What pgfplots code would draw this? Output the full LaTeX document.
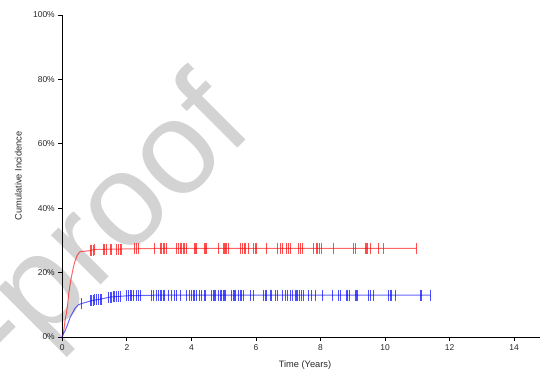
\documentclass[border=0pt]{standalone}
\usepackage{fontspec}
\setmainfont{Liberation Sans}
\usepackage{pgfplots}
\pgfplotsset{compat=1.18}
\usepackage{pgfplotstable}
\definecolor{wm}{RGB}{211,211,211}
\definecolor{txt}{RGB}{40,40,40}

\pgfplotstableread{
t y
0 0
0.03 1
0.06 3
0.09 5.5
0.13 7.5
0.17 10.5
0.20 13.5
0.26 17.5
0.34 21.5
0.39 23.5
0.47 25.5
0.55 26.5
0.85 26.8
1.00 27.2
3.00 27.5
10.97 27.5
}\redcurve

\pgfplotstableread{
t y
0 0
0.03 1
0.08 1.8
0.15 3.5
0.24 6
0.32 7.5
0.40 9
0.50 10
0.60 10.4
0.71 10.7
0.91 11.3
1.20 11.8
1.48 12.4
2.00 12.8
3.00 13
11.40 13
}\bluecurve

\pgfplotstableread{
t y
0.86 26.8
0.91 26.9
0.96 27.0
1.01 27.2
1.27 27.2
1.32 27.2
1.38 27.2
1.48 27.3
1.53 27.3
1.69 27.3
1.74 27.3
1.79 27.3
1.84 27.3
2.25 27.4
2.31 27.4
2.36 27.4
2.87 27.5
3.03 27.5
3.08 27.5
3.13 27.5
3.18 27.5
3.22 27.5
3.55 27.5
3.60 27.5
3.65 27.5
3.70 27.5
3.77 27.5
3.86 27.5
4.11 27.5
4.17 27.5
4.42 27.5
4.48 27.5
4.83 27.5
4.99 27.5
5.04 27.5
5.10 27.5
5.15 27.5
5.51 27.5
5.59 27.5
5.66 27.5
5.77 27.5
5.92 27.5
5.98 27.5
6.03 27.5
6.34 27.5
6.67 27.5
6.75 27.5
6.83 27.5
6.94 27.5
7.01 27.5
7.08 27.5
7.32 27.5
7.37 27.5
7.45 27.5
7.78 27.5
7.89 27.5
7.97 27.5
8.04 27.5
8.40 27.5
9.02 27.5
9.08 27.5
9.39 27.5
9.44 27.5
9.54 27.5
9.80 27.5
9.95 27.5
10.97 27.5
}\redcens

\pgfplotstableread{
t y
0.60 10.4
0.86 11.2
0.91 11.3
0.96 11.4
1.01 11.5
1.07 11.6
1.12 11.7
1.17 11.8
1.22 11.8
1.43 12.3
1.48 12.4
1.53 12.4
1.58 12.5
1.63 12.5
1.69 12.6
1.74 12.6
1.79 12.7
2.00 12.8
2.05 12.8
2.10 12.8
2.15 12.8
2.20 12.8
2.31 12.9
2.36 12.9
2.41 12.9
2.77 13
2.82 13
2.91 13
2.98 13
3.03 13
3.08 13
3.15 13
3.29 13
3.39 13
3.49 13
3.55 13
3.65 13
3.86 13
3.93 13
4.01 13
4.08 13
4.17 13
4.25 13
4.32 13
4.42 13
4.63 13
4.68 13
4.73 13
4.84 13
4.89 13
4.94 13
5.01 13
5.07 13
5.25 13
5.30 13
5.35 13
5.46 13
5.51 13
5.56 13
5.61 13
5.82 13
5.92 13
6.23 13
6.29 13
6.34 13
6.44 13
6.49 13
6.60 13
6.67 13
6.83 13
6.91 13
6.98 13
7.06 13
7.14 13
7.22 13
7.27 13
7.35 13
7.42 13
7.47 13
7.63 13
7.73 13
7.84 13
8.07 13
8.38 13
8.56 13
8.61 13
8.82 13
8.90 13
9.08 13
9.13 13
9.49 13
9.54 13
9.64 13
10.11 13
10.16 13
10.21 13
10.32 13
11.09 13
11.14 13
11.40 13
}\bluecens

\begin{document}
\begin{tikzpicture}
% watermark (behind the chart)
\node[rotate=45, anchor=base east, text=wm, inner sep=0pt,
      font=\fontsize{133}{133}\selectfont] at (193.5bp,206.8bp) {Journal Pre-proof};
\begin{axis}[
  at={(0,0)}, anchor=south west,
  scale only axis,
  width=477.7bp, height=322bp,
  xmin=0, xmax=14.8, ymin=0, ymax=100,
  axis lines*=left,
  axis line style={black, line width=0.8pt},
  xtick={0,2,...,14},
  ytick={0,20,...,100},
  yticklabel={\pgfmathprintnumber{\tick}\%},
  tick align=outside,
  major tick length=4bp,
  tick style={black, line width=0.8pt},
  /pgf/number format/assume math mode=true,
  tick label style={font=\fontsize{8.5}{10}\selectfont, text=txt},
  xlabel={Time (Years)},
  ylabel={Cumulative Incidence},
  label style={font=\fontsize{9.3}{11}\selectfont, text=txt},
  xlabel style={at={(axis description cs:0.508,-0.087)}, anchor=center},
  ylabel style={at={(axis description cs:-0.092,0.5)}, anchor=center},
  clip=false,
]
\addplot[red, opacity=0.6, line width=1pt] table[x=t,y=y] {\redcurve};
\addplot[blue, opacity=0.6, line width=1pt] table[x=t,y=y] {\bluecurve};
\addplot[only marks, mark=|, mark size=5.5bp, red, opacity=0.7, mark options={line width=1.1pt}] table[x=t,y=y] {\redcens};
\addplot[only marks, mark=|, mark size=5.5bp, blue, opacity=0.7, mark options={line width=1.1pt}] table[x=t,y=y] {\bluecens};
\end{axis}
\pgfresetboundingbox
\path[use as bounding box] (-62.3bp,-39bp) rectangle (477.7bp,337bp);
\end{tikzpicture}
\end{document}
